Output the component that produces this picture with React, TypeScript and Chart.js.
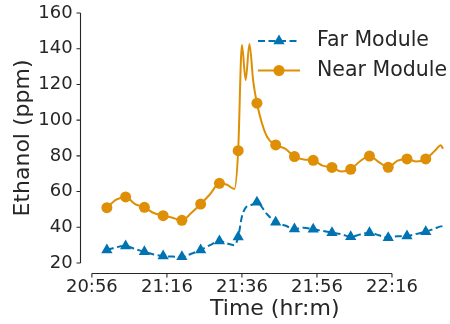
import React, { useEffect, useRef } from 'react';
import { Chart, registerables } from 'chart.js';

Chart.register(...registerables);

// Time axis: minutes after 21:00
const START_CLOCK = '21:00';
const timeOffsets = [
  0, 2.5, 5, 7.5, 10, 12.5, 15, 17.5, 20, 22.5, 25, 27.5, 30, 32, 34, 35, 36, 37, 38, 39,
  40, 42.5, 45, 47.5, 50, 52.5, 55, 57.5, 60, 62.5, 65, 67.5, 70, 72.5, 75, 77.5, 80, 82.5,
  85, 87.5, 89, 89.6,
];
const farModule = [
  27.3, 28.8, 29.5, 27.8, 26.3, 24.8, 23.9, 23.6, 23.5, 25.2, 27.3, 30.0, 32.3, 31.0, 30.0,
  34.5, 46.0, 51.0, 52.0, 53.0, 54.0, 47.8, 42.8, 41.0, 39.0, 39.8, 38.9, 38.0, 37.0, 36.1,
  34.7, 36.0, 37.0, 35.5, 34.2, 35.0, 35.1, 36.3, 37.5, 39.4, 40.5, 40.7,
];
const nearModule = [
  51.0, 55.5, 57.0, 53.0, 51.2, 48.0, 46.5, 45.3, 43.9, 48.0, 53.0, 58.5, 64.6, 63.8, 61.5,
  82.9, 142.1, 122.5, 142.7, 122.0, 109.5, 91.5, 86.1, 84.0, 79.6, 78.0, 77.5, 74.5, 73.5,
  71.2, 72.5, 77.0, 79.9, 76.5, 73.6, 77.3, 78.3, 76.8, 78.3, 83.0, 86.0, 84.0,
];
const seriesNames = ['Far Module', 'Near Module'];
const xTickLabels = ['20:56', '21:16', '21:36', '21:56', '22:16'];
const yTickValues = [20, 40, 60, 80, 100, 120, 140, 160];
const xAxisTitle = 'Time (hr:m)';
const yAxisTitle = 'Ethanol (ppm)';

const BLUE = '#0173b2';
const ORANGE = '#de8f05';
const INK = '#262626';
const FONT = "'DejaVu Sans', sans-serif";

const toMin = (s: string) => {
  const [h, m] = s.split(':').map(Number);
  return h * 60 + m;
};
const fmt = (v: number) => {
  const h = Math.floor(v / 60);
  const m = Math.round(v - h * 60);
  return `${h}:${String(m).padStart(2, '0')}`;
};
const BASE = toMin(START_CLOCK);
const xTickValues = xTickLabels.map(toMin);
const isMarker = (i: number) => timeOffsets[i] % 5 === 0;

const spinesPlugin = {
  id: 'spines',
  afterDraw(chart: any) {
    const { ctx, chartArea } = chart;
    const xs = chart.scales.x;
    const ys = chart.scales.y;
    ctx.save();
    ctx.strokeStyle = INK;
    ctx.lineWidth = 1.1;
    const sx = Math.round(chartArea.left - 10) + 0.5;
    const yTop = ys.getPixelForValue(yTickValues[yTickValues.length - 1]);
    const yBot = ys.getPixelForValue(yTickValues[0]);
    ctx.beginPath();
    ctx.moveTo(sx, yTop);
    ctx.lineTo(sx, yBot);
    yTickValues.forEach((v) => {
      const p = ys.getPixelForValue(v);
      ctx.moveTo(sx, p);
      ctx.lineTo(sx - 4, p);
    });
    ctx.stroke();
    const sy = Math.round(chartArea.bottom + 10) + 0.5;
    const xL = xs.getPixelForValue(xTickValues[0]);
    const xR = xs.getPixelForValue(xTickValues[xTickValues.length - 1]);
    ctx.beginPath();
    ctx.moveTo(xL, sy);
    ctx.lineTo(xR, sy);
    xTickValues.forEach((v) => {
      const p = xs.getPixelForValue(v);
      ctx.moveTo(p, sy);
      ctx.lineTo(p, sy + 4);
    });
    ctx.stroke();
    ctx.restore();
  },
};

const legendPlugin = {
  id: 'mplLegend',
  afterDraw(chart: any) {
    const { ctx } = chart;
    const rows = [
      { y: 41, color: BLUE, dash: [7, 3.5], style: 'triangle', r: 6.5 },
      { y: 70.5, color: ORANGE, dash: [], style: 'circle', r: 5.5 },
    ];
    ctx.save();
    rows.forEach((row, i) => {
      ctx.strokeStyle = row.color;
      ctx.fillStyle = row.color;
      ctx.lineWidth = 2;
      ctx.setLineDash(row.dash);
      ctx.beginPath();
      ctx.moveTo(258, row.y);
      ctx.lineTo(300, row.y);
      ctx.stroke();
      ctx.setLineDash([]);
      if (row.style === 'triangle') {
        const R = row.r;
        const a = (2 * Math.PI) / 3;
        ctx.beginPath();
        ctx.moveTo(279, row.y - R);
        ctx.lineTo(279 + R * Math.sin(a), row.y - R * Math.cos(a));
        ctx.lineTo(279 - R * Math.sin(a), row.y - R * Math.cos(a));
        ctx.closePath();
        ctx.fill();
      } else {
        ctx.beginPath();
        ctx.arc(279, row.y, row.r, 0, Math.PI * 2);
        ctx.fill();
      }
      ctx.fillStyle = INK;
      ctx.font = `20.5px ${FONT}`;
      ctx.textAlign = 'left';
      ctx.textBaseline = 'middle';
      ctx.fillText(seriesNames[i], 317, row.y);
    });
    ctx.restore();
  },
};

export default function App() {
  const ref = useRef<HTMLCanvasElement | null>(null);

  useEffect(() => {
    if (!ref.current) return;
    const mk = (vals: number[]) => timeOffsets.map((t, i) => ({ x: BASE + t, y: vals[i] }));
    const chart = new Chart(ref.current, {
      type: 'line',
      data: {
        datasets: [
          {
            label: seriesNames[0],
            data: mk(farModule),
            borderColor: BLUE,
            backgroundColor: BLUE,
            borderWidth: 2,
            borderDash: [7, 3.5],
            cubicInterpolationMode: 'monotone',
            pointStyle: 'triangle',
            pointRadius: (c: any) => (isMarker(c.dataIndex) ? 6.5 : 0),
            pointBackgroundColor: BLUE,
            pointBorderWidth: 0,
            fill: false,
          },
          {
            label: seriesNames[1],
            data: mk(nearModule),
            borderColor: ORANGE,
            backgroundColor: ORANGE,
            borderWidth: 2,
            cubicInterpolationMode: 'monotone',
            pointStyle: 'circle',
            pointRadius: (c: any) => (isMarker(c.dataIndex) ? 5.5 : 0),
            pointBackgroundColor: ORANGE,
            pointBorderWidth: 0,
            fill: false,
          },
        ],
      },
      options: {
        responsive: false,
        animation: false,
        events: [],
        layout: { padding: { top: 13, right: 1, left: 0, bottom: 0 } },
        plugins: {
          legend: { display: false },
          tooltip: { enabled: false },
        },
        scales: {
          x: {
            type: 'linear',
            min: toMin('20:55') + 0.5,
            max: toMin('22:34'),
            grid: { display: false, drawTicks: false },
            border: { display: false },
            afterBuildTicks: (s: any) => {
              s.ticks = xTickValues.map((v) => ({ value: v }));
            },
            afterFit: (s: any) => {
              s.height = 61;
              s.paddingLeft = 0;
              s.paddingRight = 0;
            },
            ticks: {
              autoSkip: false,
              maxRotation: 0,
              padding: 13.8,
              color: INK,
              font: { family: FONT, size: 18 },
              callback: (v: any) => fmt(Number(v)),
            },
            title: {
              display: true,
              text: xAxisTitle,
              color: INK,
              font: { family: FONT, size: 22 },
              padding: { top: 0, bottom: 2 },
            },
          },
          y: {
            type: 'linear',
            min: yTickValues[0],
            max: yTickValues[yTickValues.length - 1],
            grid: { display: false, drawTicks: false },
            border: { display: false },
            afterBuildTicks: (s: any) => {
              s.ticks = yTickValues.map((v) => ({ value: v }));
            },
            afterFit: (s: any) => {
              s.width = 90;
              s.paddingTop = 0;
              s.paddingBottom = 0;
            },
            ticks: {
              padding: 17.3,
              color: INK,
              font: { family: FONT, size: 18 },
            },
            title: {
              display: true,
              text: yAxisTitle,
              color: INK,
              font: { family: FONT, size: 22 },
              padding: { top: 10.5, bottom: 0 },
            },
          },
        },
      },
      plugins: [spinesPlugin, legendPlugin],
    } as any);
    return () => chart.destroy();
  }, []);

  return (
    <div
      style={{
        position: 'fixed',
        left: 0,
        top: 0,
        width: 450,
        height: 324,
        overflow: 'hidden',
        background: '#fff',
      }}
    >
      <canvas ref={ref} width={466} height={324} style={{ display: 'block' }} />
    </div>
  );
}
